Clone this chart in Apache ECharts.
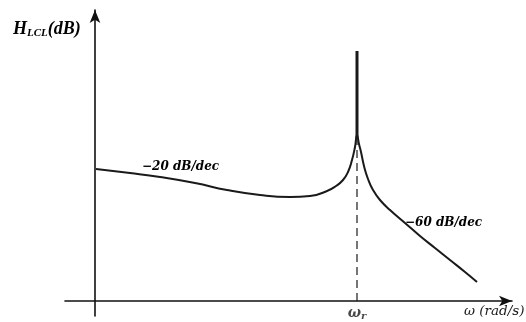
<!DOCTYPE html>
<html>
<head>
<meta charset="utf-8">
<script src="https://cdn.jsdelivr.net/npm/echarts@6/dist/echarts.min.js"></script>
<style>
  html, body { margin: 0; padding: 0; background: #fff; }
  #chart { width: 526px; height: 322px; }
</style>
</head>
<body>
<div id="chart"></div>
<script>
// Magnitude sketch of an LCL filter: slow roll-off, resonance spike at ω_r, steep roll-off.
// Frequency axis (schematic units, origin at the vertical axis)
const omega = [1, 35, 65, 100, 132, 165, 195, 215, 232, 241, 248, 253, 257, 260, 262,
               264, 266, 269, 273, 278, 285, 295, 310, 325, 340, 355, 370, 382];
// Magnitude (schematic dB units, origin at the frequency axis)
const magnitude = [132, 128, 124, 118, 111, 106, 104, 105, 110, 115, 121, 129, 141, 154, 166,
                   157, 149, 135, 122, 111, 101, 91, 78, 65, 53, 41, 29, 19];
// Resonance frequency and the top of the resonance peak
const omegaR = 262;
const peakBase = 162;
const peakTop = 250;
// Label of the resonance frequency on the frequency axis
const tickLabels = ['{w|ω}{s|r}'];

const curve = omega.map((w, i) => [w, magnitude[i]]);
const spike = [[omegaR, peakBase], [omegaR, peakTop]];
const guide = [[omegaR, 0], [omegaR, peakBase]];

const serifBI = { fontFamily: 'DejaVu Serif', fontStyle: 'italic', fontWeight: 'bold', color: '#1a1a1a' };

const chart = echarts.init(document.getElementById('chart'), null, { renderer: 'canvas' });
chart.setOption({
  animation: false,
  backgroundColor: '#fff',
  grid: { left: 65, right: 14, top: 10, bottom: 6, containLabel: false, outerBoundsMode: 'none' },
  xAxis: {
    type: 'value', min: -30, max: 417,
    splitLine: { show: false },
    axisTick: { show: false },
    axisLabel: { show: false },
    axisLine: { onZero: true, symbol: ['none', 'arrow'], symbolSize: [8, 13],
                lineStyle: { color: '#111', width: 1.6 } }
  },
  yAxis: {
    type: 'value', min: -15, max: 291,
    splitLine: { show: false },
    axisTick: { show: false },
    axisLabel: { show: false },
    axisLine: { onZero: true, symbol: ['none', 'arrow'], symbolSize: [8, 13],
                lineStyle: { color: '#111', width: 1.6 } }
  },
  series: [
    { type: 'line', data: curve, smooth: 0.5, showSymbol: false, silent: true,
      lineStyle: { color: '#1a1a1a', width: 2 } },
    { type: 'line', data: spike, showSymbol: false, silent: true,
      lineStyle: { color: '#1a1a1a', width: 3 } },
    { type: 'line', data: guide, showSymbol: false, silent: true,
      lineStyle: { color: '#1a1a1a', width: 1.2, type: [8, 5] } },
    // ω_r marker on the frequency axis
    { type: 'scatter', data: [[omegaR, 0]], symbolSize: 1, silent: true, clip: false,
      itemStyle: { color: 'rgba(0,0,0,0)' },
      label: {
        show: true, position: 'bottom', distance: 4, formatter: () => tickLabels[0],
        rich: {
          w: { fontFamily: 'DejaVu Serif', fontStyle: 'italic', fontWeight: 'bold', fontSize: 14, color: '#1a1a1a' },
          s: { fontFamily: 'DejaVu Serif', fontStyle: 'italic', fontWeight: 'bold', fontSize: 10, color: '#1a1a1a', padding: [6, 0, 0, 0] }
        }
      } }
  ],
  graphic: [
    { type: 'text', left: 13, top: 20, style: {
        text: '{h|H}{s|LCL}{h|(dB)}',
        rich: {
          h: { fontFamily: 'Liberation Serif', fontStyle: 'italic', fontWeight: 'bold', fontSize: 18, color: '#1a1a1a' },
          s: { fontFamily: 'Liberation Serif', fontStyle: 'italic', fontWeight: 'bold', fontSize: 11, color: '#1a1a1a', padding: [8, 0, 0, 0] }
        } } },
    { type: 'text', left: 142, top: 161, style: Object.assign({ text: '−20 dB/dec', fontSize: 12 }, serifBI) },
    { type: 'text', left: 405, top: 217, style: Object.assign({ text: '−60 dB/dec', fontSize: 12 }, serifBI) },
    { type: 'text', left: 464, top: 304, style: {
        text: 'ω (rad/s)', fontFamily: 'DejaVu Serif', fontStyle: 'italic', fontSize: 13.5, fill: '#1a1a1a' } }
  ]
});
</script>
</body>
</html>
